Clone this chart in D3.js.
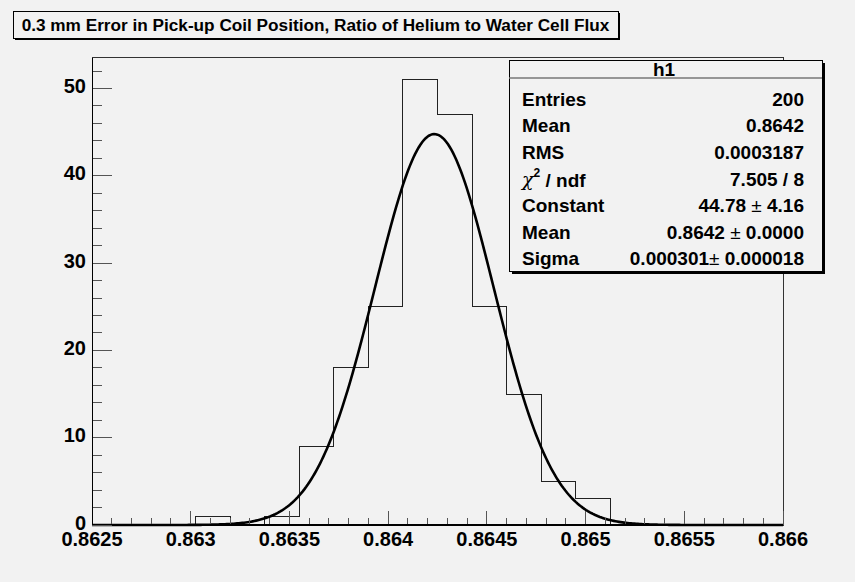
<!DOCTYPE html>
<html><head><meta charset="utf-8">
<script src="https://cdn.jsdelivr.net/npm/d3@7"></script>
<style>body{margin:0;background:#f2f2f2} svg{display:block}</style>
</head><body><svg id="c" width="855" height="582"></svg>
<script>
// ---- data ----
const titleText = "0.3 mm Error in Pick-up Coil Position, Ratio of Helium to Water Cell Flux";
const binCounts = [0,0,0,1,0,1,9,18,25,51,47,25,15,5,3,0,0,0,0,0];
const xRange = [0.8625, 0.866];
const xTicks = [0.8625,0.863,0.8635,0.864,0.8645,0.865,0.8655,0.866];
const xTickLabels = ["0.8625","0.863","0.8635","0.864","0.8645","0.865","0.8655","0.866"];
const yRange = [0, 53.55];
const yTicks = [0,10,20,30,40,50];
const statsLabels = ["Entries","Mean","RMS","CHI","Constant","Mean","Sigma"];
const statsValues = [["200"],["0.8642"],["0.0003187"],["7.505 / 8"],["44.78 ","4.16"],["0.8642 ","0.0000"],["0.000301","0.000018"]];
const statsName = "h1";
const fitConstant = 44.78, fitMean = 0.864234, fitSigma = 0.000301;

// ---- layout ----
const W = 855, H = 582;
const frame = {l:92, r:783, t:57.5, b:525};
const FONT = "'Liberation Sans', Arial, Helvetica, sans-serif";
const svg = d3.select("#c");
svg.append("rect").attr("width",W).attr("height",H).attr("fill","#f2f2f2");

const x = d3.scaleLinear().domain(xRange).range([frame.l, frame.r]);
const y = d3.scaleLinear().domain(yRange).range([frame.b, frame.t]);

// frame border
svg.append("rect").attr("x",frame.l).attr("y",frame.t).attr("width",frame.r-frame.l).attr("height",frame.b-frame.t)
  .attr("fill","#f2f2f2").attr("stroke","#333").attr("stroke-width",1).attr("shape-rendering","crispEdges");

// histogram
const nb = binCounts.length;
const bw = (xRange[1]-xRange[0])/nb;
const edges = d3.range(nb+1).map(i => xRange[0] + i*bw);
let pts = [[x(edges[0]), y(0)]];
binCounts.forEach((c,i) => { pts.push([x(edges[i]), y(c)]); pts.push([x(edges[i+1]), y(c)]); });
pts.push([x(edges[nb]), y(0)]);
svg.append("path").attr("d", d3.line()(pts)).attr("fill","none").attr("stroke","#222").attr("stroke-width",1)
  .attr("shape-rendering","crispEdges");

// gaussian fit
const gx = d3.range(0, 401).map(i => xRange[0] + i*(xRange[1]-xRange[0])/400);
const gauss = v => fitConstant*Math.exp(-0.5*Math.pow((v-fitMean)/fitSigma,2));
svg.append("path").attr("d", d3.line().x(d=>x(d)).y(d=>y(gauss(d))).curve(d3.curveLinear)(gx))
  .attr("fill","none").attr("stroke","#000").attr("stroke-width",2.6);

// axes
const tickCol = "#555";
const gX = svg.append("g").attr("shape-rendering","crispEdges");
const xMinor = d3.range(0, 36).map(i => xRange[0] + i*0.0001);
gX.selectAll("line.mn").data(xMinor).join("line").attr("x1",d=>x(d)).attr("x2",d=>x(d))
  .attr("y1",frame.b).attr("y2",frame.b-7).attr("stroke",tickCol);
gX.selectAll("line.mj").data(xTicks).join("line").attr("x1",d=>x(d)).attr("x2",d=>x(d))
  .attr("y1",frame.b).attr("y2",frame.b-14).attr("stroke",tickCol);
gX.append("line").attr("x1",frame.l).attr("x2",frame.r).attr("y1",frame.b).attr("y2",frame.b).attr("stroke","#000").attr("stroke-width",1.5);
svg.selectAll("text.xl").data(xTicks).join("text").attr("x",d=>x(d)).attr("y",545.5)
  .attr("text-anchor","middle").attr("font-family",FONT).attr("font-weight","bold").attr("font-size",20)
  .attr("fill","#000").text((d,i)=>xTickLabels[i]);

const gY = svg.append("g").attr("shape-rendering","crispEdges");
const yMinor = d3.range(0, 27).map(i => i*2);
gY.selectAll("line.mn").data(yMinor).join("line").attr("y1",d=>y(d)).attr("y2",d=>y(d))
  .attr("x1",frame.l).attr("x2",frame.l+10).attr("stroke",tickCol);
gY.selectAll("line.mj").data(yTicks).join("line").attr("y1",d=>y(d)).attr("y2",d=>y(d))
  .attr("x1",frame.l).attr("x2",frame.l+20).attr("stroke",tickCol);
gY.append("line").attr("x1",frame.l).attr("x2",frame.l).attr("y1",frame.t).attr("y2",frame.b).attr("stroke","#000").attr("stroke-width",1);
svg.selectAll("text.yl").data(yTicks).join("text").attr("x",86).attr("y",d=>y(d)-2.5).attr("dy","0.36em")
  .attr("text-anchor","end").attr("font-family",FONT).attr("font-weight","bold").attr("font-size",20)
  .attr("fill","#000").text(d=>d);

// title box
const tb = {x:13, y:11, w:605, h:27};
svg.append("rect").attr("x",tb.x+2).attr("y",tb.y+2).attr("width",tb.w).attr("height",tb.h).attr("fill","#000");
svg.append("rect").attr("x",tb.x).attr("y",tb.y).attr("width",tb.w).attr("height",tb.h).attr("fill","#f2f2f2")
  .attr("stroke","#000").attr("stroke-width",1).attr("shape-rendering","crispEdges");
svg.append("text").attr("x",tb.x+tb.w/2).attr("y",tb.y+tb.h/2).attr("dy","0.36em").attr("text-anchor","middle")
  .attr("font-family",FONT).attr("font-weight","bold").attr("font-size",17.2).attr("fill","#000").text(titleText);

// stats box
const sb = {x:509, y:60, w:313, h:211};
svg.append("rect").attr("x",sb.x+3).attr("y",sb.y+3).attr("width",sb.w).attr("height",sb.h).attr("fill","#000");
svg.append("rect").attr("x",sb.x).attr("y",sb.y).attr("width",sb.w).attr("height",sb.h).attr("fill","#f2f2f2")
  .attr("stroke","#000").attr("stroke-width",1).attr("shape-rendering","crispEdges");
svg.append("line").attr("x1",sb.x).attr("x2",sb.x+sb.w).attr("y1",78).attr("y2",78).attr("stroke","#777").attr("stroke-width",1.5);
svg.append("text").attr("x",664).attr("y",69).attr("dy","0.36em").attr("text-anchor","middle")
  .attr("font-family",FONT).attr("font-weight","bold").attr("font-size",19).text(statsName);
const rowY = i => 99 + i*26.6;
statsLabels.forEach((lab,i) => {
  const t = svg.append("text").attr("x",522).attr("y",rowY(i)).attr("dy","0.36em")
    .attr("font-family",FONT).attr("font-weight","bold").attr("font-size",19).attr("fill","#000");
  if (lab === "CHI") {
    t.append("tspan").attr("font-family","'DejaVu Serif', serif").attr("font-style","italic").attr("font-weight","normal").text("χ");
    t.append("tspan").attr("font-size",12).attr("dy","-0.75em").text("2");
    t.append("tspan").attr("dy","0.55em").text(" / ndf");
  } else t.text(lab);
});
statsValues.forEach((v,i) => {
  const t = svg.append("text").attr("x",804).attr("y",rowY(i)).attr("dy","0.36em").attr("text-anchor","end")
    .attr("font-family",FONT).attr("font-weight","bold").attr("font-size",19).attr("fill","#000");
  t.append("tspan").text(v[0]);
  if (v.length > 1) {
    t.append("tspan").attr("font-weight","normal").text("±");
    t.append("tspan").text(" " + v[1]);
  }
});
</script></body></html>
